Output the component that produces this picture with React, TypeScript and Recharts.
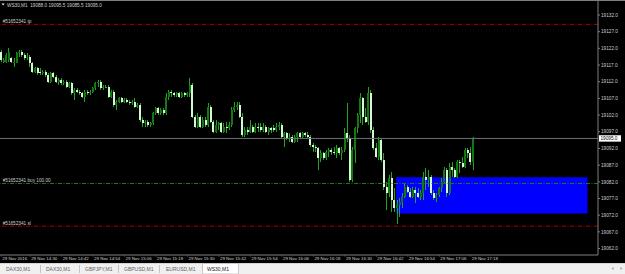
import { Bar, ComposedChart, ReferenceArea, ReferenceLine, XAxis, YAxis } from "recharts";

// WS30,M1 — one-minute candles, k = minutes after 14:18
const OPEN = [
  19121.0, 19118.0, 19118.0, 19118.5, 19119.0, 19117.5, 19117.5, 19120.5, 19121.0, 19120.0,
  19119.0, 19119.5, 19117.5, 19115.0, 19116.0, 19115.0, 19114.5, 19115.0, 19114.0, 19112.0,
  19114.5, 19113.5, 19112.0, 19112.5, 19111.5, 19112.0, 19110.5, 19111.5, 19108.5, 19109.5,
  19109.0, 19108.5, 19107.5, 19109.0, 19108.5, 19109.0, 19110.0, 19111.5, 19112.0, 19110.0,
  19110.5, 19110.5, 19107.5, 19109.0, 19105.0, 19106.0, 19107.0, 19106.0, 19106.5, 19106.0,
  19105.5, 19106.0, 19104.5, 19105.0, 19100.5, 19099.5, 19100.0, 19099.0, 19099.5, 19102.5,
  19104.0, 19102.5, 19103.5, 19102.5, 19107.5, 19109.0, 19108.5, 19108.0, 19108.5, 19107.5,
  19108.5, 19108.0, 19108.5, 19111.0, 19101.5, 19098.5, 19101.5, 19098.5, 19100.5, 19099.0,
  19104.5, 19100.0, 19097.0, 19099.0, 19099.5, 19097.0, 19098.5, 19098.0, 19099.0, 19103.5,
  19104.5, 19105.0, 19101.5, 19096.0, 19097.5, 19097.0, 19098.5, 19097.0, 19098.5, 19098.5,
  19097.5, 19098.5, 19097.0, 19098.0, 19098.0, 19097.5, 19098.5, 19099.0, 19095.5, 19096.5,
  19095.0, 19095.5, 19094.0, 19095.5, 19096.5, 19095.5, 19096.5, 19096.0, 19095.5, 19093.0,
  19092.5, 19092.0, 19089.0, 19090.5, 19089.0, 19091.0, 19091.5, 19091.0, 19090.5, 19092.0,
  19090.5, 19091.5, 19096.5, 19095.0, 19082.5, 19091.5, 19098.0, 19102.0, 19107.0, 19101.5,
  19100.0, 19108.5, 19097.5, 19092.0, 19089.5, 19094.5, 19088.5, 19080.5, 19078.5, 19083.0,
  19076.5, 19074.0, 19075.0, 19076.0, 19077.5, 19080.5, 19079.0, 19077.5, 19079.5, 19078.5,
  19077.5, 19078.5, 19083.5, 19082.5, 19083.5, 19078.5, 19077.0, 19078.0, 19080.0, 19082.0,
  19085.5, 19078.5, 19086.5, 19085.5, 19083.5, 19088.0, 19087.5, 19086.5, 19091.5, 19090.5,
  19088.0,
];
const HIGH = [
  19121.5, 19119.0, 19120.5, 19122.0, 19119.5, 19119.0, 19121.0, 19121.5, 19121.5, 19120.5,
  19120.5, 19120.0, 19118.0, 19116.5, 19116.5, 19116.0, 19115.5, 19115.5, 19114.5, 19115.0,
  19115.0, 19114.0, 19113.0, 19113.0, 19112.5, 19112.5, 19112.0, 19112.0, 19110.0, 19110.0,
  19109.5, 19109.0, 19109.5, 19109.5, 19109.5, 19110.5, 19112.0, 19112.5, 19112.5, 19111.0,
  19111.0, 19111.0, 19109.5, 19109.5, 19106.5, 19107.5, 19107.5, 19107.0, 19107.0, 19106.5,
  19106.5, 19107.0, 19105.5, 19105.5, 19101.5, 19100.5, 19100.5, 19100.0, 19103.0, 19104.5,
  19104.5, 19104.0, 19104.0, 19108.5, 19109.5, 19109.5, 19109.0, 19109.0, 19109.0, 19109.0,
  19109.0, 19109.0, 19113.0, 19111.5, 19102.0, 19102.5, 19102.0, 19101.5, 19101.5, 19105.5,
  19105.0, 19100.5, 19100.5, 19100.0, 19100.0, 19099.5, 19100.0, 19100.0, 19104.5, 19106.0,
  19106.0, 19106.0, 19102.5, 19098.5, 19098.5, 19100.5, 19099.0, 19099.5, 19099.5, 19099.5,
  19099.5, 19099.0, 19098.5, 19098.5, 19099.0, 19099.5, 19100.0, 19099.5, 19097.0, 19097.0,
  19096.5, 19096.0, 19096.0, 19097.0, 19097.0, 19097.0, 19097.0, 19097.0, 19096.0, 19093.5,
  19093.0, 19092.5, 19091.5, 19091.0, 19091.5, 19092.0, 19092.0, 19092.5, 19093.0, 19092.5,
  19092.5, 19098.0, 19105.5, 19096.0, 19092.5, 19098.5, 19102.5, 19108.5, 19107.5, 19104.0,
  19110.5, 19109.5, 19098.5, 19093.5, 19095.5, 19095.0, 19090.5, 19082.0, 19084.0, 19085.0,
  19080.0, 19076.5, 19077.0, 19078.5, 19081.5, 19081.0, 19080.0, 19080.5, 19080.5, 19080.0,
  19079.5, 19085.0, 19086.0, 19085.5, 19084.0, 19079.5, 19078.5, 19080.5, 19083.0, 19086.5,
  19086.0, 19087.5, 19088.0, 19086.0, 19088.5, 19088.5, 19089.5, 19092.0, 19092.0, 19092.5,
  19095.5,
];
const LOW = [
  19118.0, 19117.5, 19117.5, 19118.0, 19117.5, 19116.5, 19117.5, 19119.5, 19119.5, 19118.5,
  19118.5, 19116.5, 19114.5, 19114.5, 19114.0, 19114.0, 19114.0, 19113.5, 19111.5, 19111.5,
  19113.0, 19111.5, 19111.0, 19111.0, 19111.0, 19110.0, 19110.0, 19108.0, 19106.5, 19108.5,
  19108.0, 19107.0, 19106.0, 19108.0, 19108.0, 19108.5, 19109.5, 19110.5, 19109.5, 19109.5,
  19110.0, 19107.0, 19107.0, 19104.5, 19103.5, 19105.5, 19105.5, 19105.5, 19105.5, 19105.0,
  19105.0, 19104.0, 19104.0, 19100.0, 19098.5, 19098.5, 19098.5, 19098.5, 19099.0, 19102.0,
  19102.0, 19102.0, 19102.0, 19102.0, 19106.5, 19107.5, 19107.5, 19107.5, 19107.0, 19107.0,
  19107.5, 19107.5, 19107.5, 19101.0, 19098.0, 19098.0, 19098.0, 19098.0, 19098.5, 19098.5,
  19099.5, 19096.5, 19096.5, 19097.5, 19096.5, 19096.5, 19096.5, 19097.5, 19098.5, 19103.0,
  19103.5, 19101.0, 19095.5, 19095.5, 19096.0, 19096.5, 19096.5, 19096.5, 19097.0, 19097.0,
  19097.0, 19096.5, 19096.0, 19096.5, 19097.0, 19097.0, 19097.5, 19095.0, 19092.5, 19094.5,
  19094.0, 19093.5, 19093.5, 19094.0, 19095.0, 19095.0, 19095.5, 19095.0, 19092.5, 19091.0,
  19091.0, 19085.5, 19088.0, 19088.5, 19088.5, 19089.5, 19090.0, 19090.0, 19089.0, 19090.0,
  19088.5, 19091.0, 19094.0, 19082.0, 19082.0, 19087.5, 19096.5, 19099.5, 19099.0, 19099.5,
  19099.0, 19096.5, 19091.5, 19089.0, 19088.5, 19088.0, 19079.5, 19073.5, 19077.5, 19073.0,
  19073.0, 19069.5, 19071.5, 19074.0, 19077.0, 19078.5, 19077.0, 19077.0, 19075.5, 19077.0,
  19076.5, 19076.5, 19079.5, 19080.5, 19078.0, 19076.5, 19076.0, 19077.5, 19079.0, 19081.5,
  19077.5, 19078.0, 19083.5, 19083.0, 19083.0, 19084.5, 19086.0, 19086.0, 19089.0, 19087.0,
  19085.5,
];
const CLOSE = [
  19118.5, 19118.5, 19120.0, 19121.0, 19118.0, 19118.0, 19120.5, 19121.0, 19120.0, 19119.0,
  19119.5, 19117.5, 19115.0, 19116.0, 19114.5, 19114.5, 19115.0, 19114.0, 19112.0, 19114.5,
  19113.5, 19112.0, 19112.5, 19111.5, 19112.0, 19110.5, 19111.5, 19108.5, 19109.5, 19109.0,
  19108.5, 19107.5, 19109.0, 19108.5, 19109.0, 19110.0, 19111.5, 19112.0, 19110.0, 19110.5,
  19110.5, 19107.5, 19109.0, 19105.0, 19106.0, 19107.0, 19106.0, 19106.5, 19106.0, 19105.5,
  19106.0, 19104.5, 19105.0, 19100.5, 19099.5, 19100.0, 19099.0, 19099.5, 19102.5, 19104.0,
  19102.5, 19103.5, 19102.5, 19107.5, 19109.0, 19108.5, 19108.0, 19108.5, 19107.5, 19108.5,
  19108.0, 19108.5, 19111.0, 19101.5, 19098.5, 19101.5, 19098.5, 19100.5, 19099.0, 19104.5,
  19100.0, 19097.0, 19099.0, 19099.5, 19097.0, 19098.5, 19098.0, 19099.0, 19103.5, 19104.5,
  19105.0, 19101.5, 19096.0, 19097.5, 19097.0, 19098.5, 19097.0, 19098.5, 19098.0, 19097.5,
  19098.5, 19097.0, 19098.0, 19097.5, 19097.5, 19098.5, 19099.0, 19095.5, 19096.5, 19095.0,
  19095.5, 19094.0, 19095.5, 19096.5, 19095.5, 19096.5, 19096.0, 19095.5, 19093.0, 19092.5,
  19092.0, 19089.0, 19090.5, 19089.0, 19091.0, 19091.5, 19091.0, 19090.5, 19092.0, 19090.5,
  19091.5, 19096.5, 19095.0, 19082.5, 19091.5, 19098.0, 19102.0, 19107.0, 19101.5, 19100.0,
  19108.5, 19097.5, 19092.0, 19089.5, 19094.5, 19088.5, 19080.5, 19078.5, 19083.0, 19076.5,
  19074.0, 19075.0, 19076.0, 19077.5, 19080.5, 19079.0, 19077.5, 19079.5, 19078.5, 19077.5,
  19078.5, 19083.5, 19082.5, 19083.5, 19078.5, 19077.0, 19078.0, 19080.0, 19082.0, 19085.5,
  19078.5, 19086.5, 19085.5, 19083.5, 19088.0, 19087.5, 19086.5, 19091.5, 19090.5, 19088.0,
  19095.0,
];

const SLOTS = 228; // bars that fit across the plot, incl. the empty shift on the right

const TIME_TICKS = [1, 12, 24, 36, 48, 60, 72, 84, 96, 108, 120, 132, 144, 156, 168, 180];
const TIME_LABELS = [
  "29 Nov 2016", "29 Nov 14:30", "29 Nov 14:42", "29 Nov 14:54", "29 Nov 15:06", "29 Nov 15:18",
  "29 Nov 15:30", "29 Nov 15:42", "29 Nov 15:54", "29 Nov 16:06", "29 Nov 16:18", "29 Nov 16:30",
  "29 Nov 16:42", "29 Nov 16:54", "29 Nov 17:06", "29 Nov 17:18",
];
const PRICE_TICKS = [
  19132, 19127, 19122, 19117, 19112, 19107, 19102, 19097, 19092, 19087, 19082, 19077, 19072, 19067, 19062,
];
const Y_MIN = 19060.06;
const Y_MAX = 19136.2;

const TICKET = "#51652341";
const TP = 19129.2;
const ENTRY = 19081.5;
const SL = 19068.7;
const BID = 19095.0;

// blue rectangle object
const BOX_FROM = 152;
const BOX_TO = 224;
const BOX_LOW = 19072.5;
const BOX_HIGH = 19083.4;

const SYMBOL = "WS30,M1";
const TABS = ["DAX30,M1", "DAX30,M1", "GBPJPY,M1", "GBPUSD,M1", "EURUSD,M1", "WS30,M1"];
const TAB_X = [6, 46, 85, 124, 166, 207];
const TAB_SEP = [40.5, 79.5, 118.5, 159.5];

const AXIS_GRAY = "#7e7e7e";
const TEXT_GRAY = "#cfcfcf";
const FS = 4.7;

const rows = Array.from({ length: SLOTS }, (_, i) => {
  const k = i + 1;
  if (i >= OPEN.length) return { k };
  return { k, o: OPEN[i], h: HIGH[i], l: LOW[i], c: CLOSE[i], range: [LOW[i], HIGH[i]] };
});

function Candle(props: any) {
  const { x, y, width, height, payload } = props;
  if (!payload || payload.o == null || !(height > 0)) return <g />;
  const { o, h, l, c } = payload;
  const ppu = height / (h - l);
  const cx = x + width / 2;
  const top = y + (h - Math.max(o, c)) * ppu;
  const bot = y + (h - Math.min(o, c)) * ppu;
  const bull = c > o;
  const bodyH = Math.max(1, bot - top);
  return (
    <g shapeRendering="crispEdges">
      <rect x={Math.round(cx - 0.5)} y={y} width={1} height={height} fill="#22a222" />
      <rect
        x={Math.round(cx - 1)}
        y={top}
        width={2}
        height={bodyH}
        fill={c === o ? "#2fbf2f" : bull ? "#107a10" : "#d2f9d2"}
      />
    </g>
  );
}

function PriceTick(props: any) {
  const { x, y, payload } = props;
  return (
    <g>
      <line x1={x} x2={x + 2} y1={y} y2={y} stroke={AXIS_GRAY} />
      <text x={x + 3} y={y + 1.7} fontSize={FS} fill={TEXT_GRAY}>
        {Number(payload.value).toFixed(1)}
      </text>
    </g>
  );
}

function TimeTick(props: any) {
  const { x, y, payload } = props;
  const i = TIME_TICKS.indexOf(payload.value);
  if (i < 0) return <g />;
  return (
    <g>
      <line x1={x} x2={x} y1={y} y2={y + 1.5} stroke="#5a5a5a" />
      <text x={x + 1} y={y + 5.4} fontSize={4.4} fill={TEXT_GRAY}>
        {TIME_LABELS[i]}
      </text>
    </g>
  );
}

function OrderLabel(props: any) {
  const { viewBox, text } = props;
  if (!viewBox) return null;
  return (
    <text x={viewBox.x + 2.7} y={viewBox.y - 1.2} fontSize={FS} fill={TEXT_GRAY}>
      {text}
    </text>
  );
}

function BidLabel(props: any) {
  const { viewBox, value } = props;
  if (!viewBox) return null;
  const bx = viewBox.x + viewBox.width + 1;
  return (
    <g>
      <rect x={bx} y={viewBox.y - 3.2} width={22} height={6.4} fill="#ffffff" />
      <text x={bx + 1.5} y={viewBox.y + 1.7} fontSize={FS} fill="#000">
        {value.toFixed(1)}
      </text>
    </g>
  );
}

export default function App() {
  const last = OPEN.length - 1;
  const title = `${SYMBOL}  ${OPEN[last].toFixed(1)} ${HIGH[last].toFixed(1)} ${LOW[last].toFixed(1)} ${CLOSE[last].toFixed(1)}`;
  return (
    <div
      style={{
        position: "absolute",
        left: 0,
        top: 0,
        width: 625,
        height: 274,
        background: "#000",
        overflow: "hidden",
        fontFamily: '"Liberation Sans", Arial, sans-serif',
      }}
    >
      <div style={{ position: "absolute", left: 0, top: 0 }}>
        <ComposedChart width={625} height={263} data={rows} margin={{ top: 1, right: 0, bottom: 0, left: 0 }}>
          <XAxis
            dataKey="k"
            type="category"
            interval={0}
            height={8}
            tickSize={0}
            tickMargin={0}
            tickLine={false}
            axisLine={{ stroke: AXIS_GRAY }}
            tick={<TimeTick />}
          />
          <YAxis
            orientation="right"
            type="number"
            width={27}
            domain={[Y_MIN, Y_MAX]}
            allowDataOverflow
            ticks={PRICE_TICKS}
            interval={0}
            tickSize={0}
            tickMargin={0}
            tickLine={false}
            axisLine={{ stroke: AXIS_GRAY }}
            tick={<PriceTick />}
          />
          <ReferenceArea
            x1={BOX_FROM}
            x2={BOX_TO}
            y1={BOX_LOW}
            y2={BOX_HIGH}
            fill="#0000ff"
            fillOpacity={1}
            stroke="none"
          />
          <ReferenceLine y={TP} stroke="#b00000" strokeDasharray="4 1.5 1 1.5" label={<OrderLabel text={`${TICKET} tp`} />} />
          <ReferenceLine y={ENTRY} stroke="#1f7a1f" strokeDasharray="4 1.5 1 1.5" label={<OrderLabel text={`${TICKET} buy 100.00`} />} />
          <ReferenceLine y={SL} stroke="#b00000" strokeDasharray="4 1.5 1 1.5" label={<OrderLabel text={`${TICKET} sl`} />} />
          <ReferenceLine y={BID} stroke="#6c707c" label={<BidLabel value={BID} />} />
          <Bar dataKey="range" barSize={2} shape={<Candle />} isAnimationActive={false} />
        </ComposedChart>
      </div>
      <svg
        width={625}
        height={274}
        style={{ position: "absolute", left: 0, top: 0, pointerEvents: "none" }}
      >
        <line x1={0} x2={625} y1={0.5} y2={0.5} stroke={AXIS_GRAY} />
        <polygon points="1.5,3.6 4.7,3.6 3.1,5.6" fill="#e8e8e8" />
        <text x={7} y={6.6} fontSize={FS} fill={TEXT_GRAY} style={{ whiteSpace: "pre" }}>
          {title}
        </text>
        <rect x={0} y={263} width={625} height={11} fill="#f0f0f0" />
        <line x1={0} x2={625} y1={263.5} y2={263.5} stroke="#d4d4d4" />
        {TAB_SEP.map((sx) => (
          <line key={sx} x1={sx} x2={sx} y1={265} y2={273} stroke="#c4c4c4" />
        ))}
        <rect x={202.5} y={263.5} width={36} height={10.5} fill="#ffffff" stroke="#c8c8c8" />
        {TABS.map((t, i) => (
          <text
            key={i}
            x={TAB_X[i]}
            y={271}
            fontSize={5}
            fill={i === TABS.length - 1 ? "#1a1a1a" : "#606060"}
          >
            {t}
          </text>
        ))}
        <polygon points="613.5,267 613.5,270 611.5,268.5" fill="#a0a0a0" />
        <polygon points="620.5,267 620.5,270 622.5,268.5" fill="#a0a0a0" />
      </svg>
    </div>
  );
}
